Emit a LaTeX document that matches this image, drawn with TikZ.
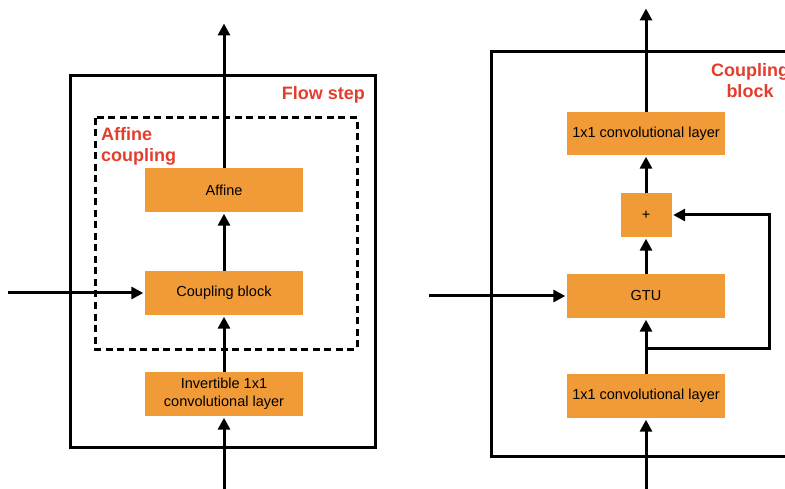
\documentclass[tikz,border=0pt]{standalone}
\usepackage{fontspec}
\setmainfont{Liberation Sans}
\usetikzlibrary{arrows.meta}
\definecolor{boxorange}{RGB}{241,155,56}
\definecolor{labelred}{RGB}{226,62,45}
\begin{document}
\begin{tikzpicture}[x=1pt,y=-1pt,
  blk/.style={fill=boxorange, minimum width=158pt, minimum height=44pt, inner sep=0pt,
    font=\fontsize{14.5}{17}\selectfont, align=center},
  arr/.style={line width=3pt, -{Triangle[length=12pt,width=12pt]}, shorten >=1.5pt},
  frame/.style={line width=3pt},
  redlabel/.style={text=labelred, font=\fontsize{18}{21}\selectfont\bfseries, inner sep=0pt}]
\useasboundingbox (0,0) rectangle (785,489);
\clip (0,0) rectangle (785,489);
% ---------- left: flow step ----------
\draw[frame] (70,76) rectangle (375,447);
\draw[line width=3pt, dash pattern=on 7pt off 4.5pt] (95,118) rectangle (357,349);
\node[redlabel, anchor=base east] (flowlbl) at (365,100) {Flow step};
\node[redlabel, anchor=north west, align=left] (afflbl) at (101,127) {Affine\\coupling};
\node[blk] (aff) at (224,190) {Affine};
\node[blk] (cb) at (224,293) {Coupling block};
\node[blk, font=\fontsize{14.5}{17.5}\selectfont] (inv) at (224,394) {Invertible 1x1\\convolutional layer};
\coordinate (ltop) at (224,22);
\coordinate (lbot) at (224,492);
\coordinate (lin) at (8,293);
\draw[arr] (aff.north) -- (ltop);
\draw[arr] (cb.north) -- (aff.south);
\draw[arr] (inv.north) -- (cb.south);
\draw[arr] (lbot) -- (inv.south);
\draw[arr] (lin) -- (cb.west);
% ---------- right: coupling block ----------
\draw[frame] (800,52) -- (491,52) -- (491,456) -- (800,456);
\node[redlabel, anchor=north, align=center] (cblbl) at (750,63) {Coupling\\block};
\node[blk, minimum height=43pt] (tc) at (646,133.5) {1x1 convolutional layer};
\node[blk, minimum width=51pt] (plus) at (646,215) {+};
\node[blk] (gtu) at (646,296) {GTU};
\node[blk] (bc) at (646,396) {1x1 convolutional layer};
\coordinate (rtop) at (646,7);
\coordinate (rbot) at (646,492);
\coordinate (rin) at (429,296);
\coordinate (junc) at (646,348);
\coordinate (fbr) at (769,348);
\coordinate (fbt) at (769,215);
\draw[arr] (tc.north) -- (rtop);
\draw[arr] (plus.north) -- (tc.south);
\draw[arr] (gtu.north) -- (plus.south);
\draw[arr] (bc.north) -- (gtu.south);
\draw[arr] (rbot) -- (bc.south);
\draw[arr] (rin) -- (gtu.west);
\draw[arr] (junc) -- (fbr) -- (fbt) -- (plus.east);
\end{tikzpicture}
\end{document}
